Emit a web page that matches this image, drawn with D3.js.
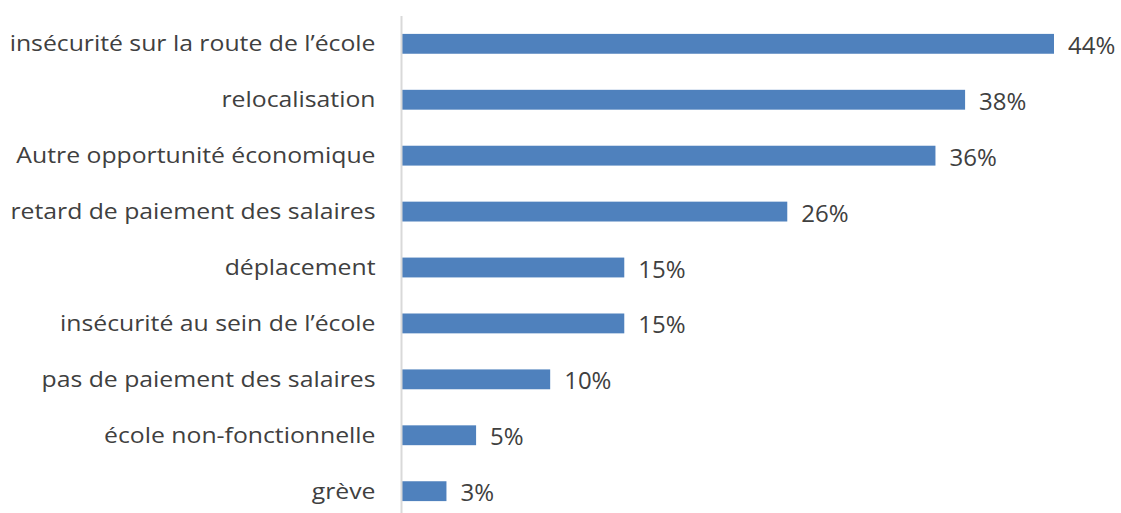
<!DOCTYPE html>
<html>
<head>
<meta charset="utf-8">
<script src="https://cdn.jsdelivr.net/npm/d3@7"></script>
<style>
  html, body { margin: 0; padding: 0; background: #fff; }
  svg { display: block; }
  text { font-family: "Open Sans", sans-serif; fill: #404040; }
</style>
</head>
<body>
<svg id="chart" width="1121" height="513"></svg>
<script>
// Reasons reported, ordered from most to least frequent
const categories = [
  "insécurité sur la route de l’école",
  "relocalisation",
  "Autre opportunité économique",
  "retard de paiement des salaires",
  "déplacement",
  "insécurité au sein de l’école",
  "pas de paiement des salaires",
  "école non-fonctionnelle",
  "grève"
];
const values = [44, 38, 36, 26, 15, 15, 10, 5, 3];

const width = 1121, height = 513;
const margin = { top: 16, right: 67, bottom: 0, left: 402 };
const labelStretch = 1.18;   // category labels are set slightly wide
const labelGap = 26;

const svg = d3.select("#chart");

const x = d3.scaleLinear()
  .domain([0, 44])
  .range([margin.left, 1054]);

const y = d3.scaleBand()
  .domain(categories)
  .range([margin.top, height + 6])
  .paddingInner(0.645)
  .paddingOuter(0.32);

// Bars
svg.append("g")
  .selectAll("rect")
  .data(values)
  .join("rect")
  .attr("x", x(0))
  .attr("y", (d, i) => y(categories[i]))
  .attr("width", d => x(d) - x(0))
  .attr("height", y.bandwidth())
  .attr("fill", "#4f81bd");

// Category axis (left), line only with labels
const yAxis = svg.append("g")
  .attr("transform", `translate(${margin.left - 0.5},0)`)
  .call(d3.axisLeft(y).tickSize(0).tickPadding(labelGap));
yAxis.select(".domain")
  .attr("d", `M0,${margin.top}V${height}`)
  .attr("stroke", "#d9d9d9")
  .attr("stroke-width", 2);
yAxis.selectAll("text")
  .style("font-size", "21px")
  .style("font-family", "'Open Sans', sans-serif")
  .attr("fill", "#404040")
  .attr("x", -labelGap / labelStretch)
  .attr("dy", "0.36em")
  .attr("transform", `scale(${labelStretch},1)`);

// Value labels
svg.append("g")
  .selectAll("text")
  .data(values)
  .join("text")
  .attr("x", d => x(d) + 14)
  .attr("y", (d, i) => y(categories[i]) + y.bandwidth() / 2)
  .attr("dy", "0.42em")
  .style("font-size", "24px")
  .text(d => d + "%");
</script>
</body>
</html>
